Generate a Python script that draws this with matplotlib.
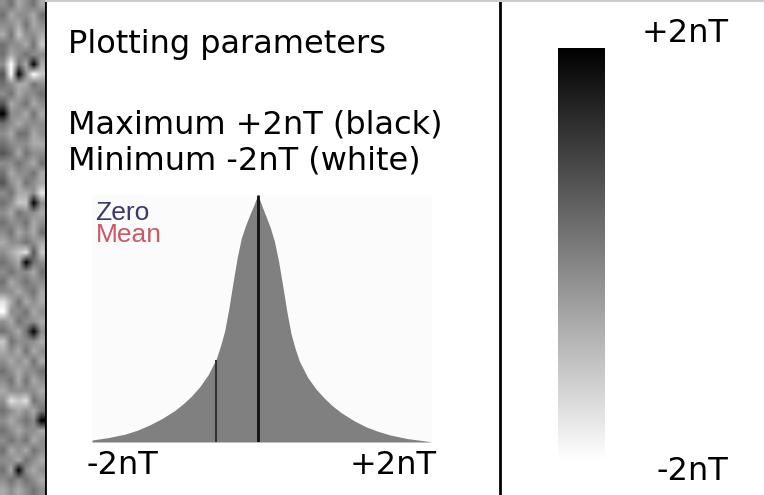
import numpy as np
import matplotlib
matplotlib.use("Agg")
import matplotlib.pyplot as plt
from matplotlib.cm import ScalarMappable
from matplotlib.colors import Normalize

# ---------------------------------------------------
# Data
# ---------------------------------------------------
# histogram of the survey values (nT) and counts
hist_x = [-2.0, -1.8, -1.6, -1.45, -1.3, -1.15, -1.0, -0.9, -0.8, -0.7, -0.6, -0.5,
          -0.45, -0.4, -0.35, -0.3, -0.25, -0.2, -0.15, -0.1, -0.05, -0.025, 0.0,
          0.025, 0.05, 0.1, 0.15, 0.2, 0.25, 0.3, 0.35, 0.4, 0.45, 0.5,
          0.6, 0.7, 0.8, 0.9, 1.0, 1.15, 1.3, 1.45, 1.6, 1.8, 2.0, 2.1]
hist_counts = [8, 18, 32, 48, 70, 96, 128, 155, 186, 224, 272, 338,
               390, 450, 540, 645, 745, 825, 875, 918, 958, 980, 1000,
               978, 955, 912, 868, 812, 732, 632, 528, 438, 378, 328,
               262, 215, 178, 146, 120, 88, 62, 43, 28, 14, 5, 0]
zero_value = 0.0
mean_value = -0.51

value_min = -2
value_max = 2
min_label = "-2nT"
max_label = "+2nT"

title_lines = ["Plotting parameters", "Maximum +2nT (black)", "Minimum -2nT (white)"]

# greyscale survey strip at the left edge, 0 = black, 9 = white
strip_rows = [
    "546546", "465564", "556465", "647556", "455647", "465455", "594606", "390597",
    "456645", "546554", "365465", "055646", "456555", "564465", "455566", "346455",
    "554564", "465546", "356456", "546658", "457705", "564556", "455465", "546564",
    "655456", "567837", "456045", "545564", "465455", "556546", "864656", "955465",
    "564556", "456405", "745556", "656465", "565646", "456554", "546465", "655556",
    "587845", "456564", "565450", "456556", "545465", "465645", "556456", "460565",
    "545456", "656545",
]

# ---------------------------------------------------
# Figure
# ---------------------------------------------------
W, H = 764, 495
fig = plt.figure(figsize=(W / 100, H / 100), dpi=100)
fig.patch.set_facecolor("white")

def px_axes(x0, y0, x1, y1):
    # axes placed by pixel box (top-left origin)
    return fig.add_axes([x0 / W, 1 - y1 / H, (x1 - x0) / W, (y1 - y0) / H])

# background axes in pixel coords for text and frame lines
bg = fig.add_axes([0, 0, 1, 1])
bg.set_xlim(0, W)
bg.set_ylim(H, 0)
bg.axis("off")

# survey strip
strip = np.array([[int(c) for c in row] for row in strip_rows])
ax_s = px_axes(0, 0, 45, H)
ax_s.imshow(strip, cmap="gray", vmin=0, vmax=9, aspect="auto", interpolation="bilinear")
ax_s.axis("off")

# frame lines
bg.plot([45, 45], [0, H], color="black", lw=2, solid_capstyle="butt")
bg.plot([500, 500], [0, H], color="black", lw=2, solid_capstyle="butt")
bg.plot([46, W], [0.8, 0.8], color="#cccccc", lw=1.5)

font = "DejaVu Sans"
fs = 23
bg.text(68, 53, title_lines[0], fontsize=fs, family=font, va="baseline")
bg.text(68, 133, title_lines[1], fontsize=fs, family=font, va="baseline")
bg.text(68, 170, title_lines[2], fontsize=fs, family=font, va="baseline")

bg.text(87, 474, min_label, fontsize=fs, family=font, va="baseline")
bg.text(437, 474, max_label, fontsize=fs, family=font, va="baseline", ha="right")

# histogram inset
ax_h = px_axes(92, 195, 432, 442)
ax_h.set_facecolor("#fbfbfb")
ax_h.fill_between(hist_x, hist_counts, 0, color="#808080", lw=0)
ax_h.set_xlim(value_min, 2.1)
ax_h.set_ylim(0, max(hist_counts))
zero_h = np.interp(zero_value, hist_x, hist_counts)
mean_h = np.interp(mean_value, hist_x, hist_counts)
ax_h.vlines(zero_value, 0, zero_h, color="#111111", lw=2)
ax_h.vlines(mean_value, 0, mean_h, color="#333333", lw=1.5)
for s in ax_h.spines.values():
    s.set_visible(False)
ax_h.set_xticks([])
ax_h.set_yticks([])
ax_h.text(0.01, 0.899, "Zero", transform=ax_h.transAxes, fontsize=19,
          family="Liberation Sans", color="#3a3a6e", va="baseline")
ax_h.text(0.01, 0.81, "Mean", transform=ax_h.transAxes, fontsize=19,
          family="Liberation Sans", color="#c85a6a", va="baseline")

# colour scale bar
ax_c = px_axes(558, 48, 605, 461)
sm = ScalarMappable(norm=Normalize(value_min, value_max), cmap="gray_r")
cb = fig.colorbar(sm, cax=ax_c)
cb.outline.set_visible(False)
cb.set_ticks([])

bg.text(729, 42, max_label, fontsize=fs, family=font, va="baseline", ha="right")
bg.text(728, 480, min_label, fontsize=fs, family=font, va="baseline", ha="right")

fig.savefig("out.png", dpi=100)
